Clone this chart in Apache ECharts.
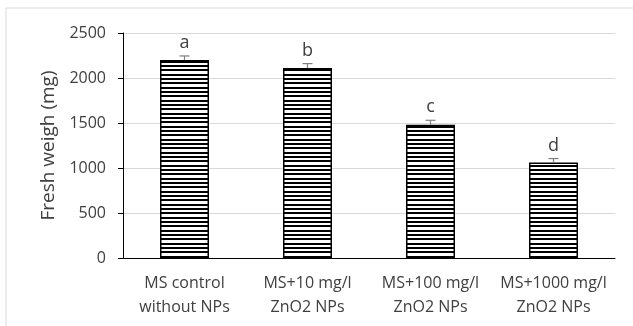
<!DOCTYPE html>
<html>
<head>
<meta charset="utf-8">
<script src="https://cdn.jsdelivr.net/npm/echarts@6/dist/echarts.min.js"></script>
<style>
  html, body { margin: 0; padding: 0; background: #fff; }
  #chart { width: 633px; height: 326px; }
</style>
</head>
<body>
<div id="chart"></div>
<script>
// data
var categories = ['MS control\nwithout NPs', 'MS+10 mg/l\nZnO2 NPs', 'MS+100 mg/l\nZnO2 NPs', 'MS+1000 mg/l\nZnO2 NPs'];
var freshWeight = [2200, 2110, 1480, 1060];
var errors = [45, 50, 50, 45];
var letters = ['a', 'b', 'c', 'd'];

// horizontal stripe fill
var pat = document.createElement('canvas');
pat.width = 4; pat.height = 13;
var ctx = pat.getContext('2d');
ctx.fillStyle = '#fff';
ctx.fillRect(0, 0, 4, 13);
ctx.fillStyle = '#000';
ctx.fillRect(0, 0, 4, 2);
ctx.fillRect(0, 4, 4, 2);
ctx.fillRect(0, 9, 4, 2);

var font = '"Open Sans", sans-serif';
var myChart = echarts.init(document.getElementById('chart'));

var errData = freshWeight.map(function (v, i) { return [i, v, errors[i], letters[i]]; });

myChart.setOption({
  animation: false,
  graphic: [{
    type: 'rect',
    shape: { x: 6, y: 8, width: 700, height: 400 },
    style: { fill: 'none', stroke: '#d9d9d9', lineWidth: 1 },
    silent: true
  }],
  grid: { left: 123, right: 18, top: 33, bottom: 68 },
  xAxis: {
    type: 'category',
    data: categories,
    axisLine: { lineStyle: { color: '#000', width: 1 } },
    axisTick: { inside: true, length: 5, lineStyle: { color: '#000' } },
    axisLabel: { interval: 0, color: '#404040', fontSize: 16, fontFamily: font, lineHeight: 24, margin: 13 }
  },
  yAxis: {
    type: 'value',
    min: 0, max: 2500, interval: 500,
    name: 'Fresh weigh (mg)',
    nameLocation: 'middle',
    nameGap: 64,
    nameTextStyle: { color: '#404040', fontSize: 19, fontFamily: font },
    axisLine: { show: true, lineStyle: { color: '#000', width: 1 } },
    axisTick: { show: true, length: 5, lineStyle: { color: '#000' } },
    axisLabel: {
      color: '#404040', fontSize: 16, fontFamily: font, margin: 17,
      formatter: function (v) { return String(v); }
    },
    splitLine: { lineStyle: { color: '#d9d9d9' } }
  },
  series: [{
    type: 'bar',
    data: freshWeight,
    barWidth: 49,
    itemStyle: {
      color: { image: pat, repeat: 'repeat' },
      borderColor: '#000',
      borderWidth: 1.5
    }
  }, {
    type: 'custom',
    data: errData,
    z: 10,
    renderItem: function (params, api) {
      var x = api.value(0);
      var v = api.value(1);
      var e = api.value(2);
      var top = api.coord([x, v + e]);
      var base = api.coord([x, v]);
      var hw = 5;
      return {
        type: 'group',
        children: [{
          type: 'line',
          shape: { x1: base[0], y1: base[1], x2: top[0], y2: top[1] },
          style: { stroke: '#7f7f7f', lineWidth: 1.2 }
        }, {
          type: 'line',
          shape: { x1: top[0] - hw, y1: top[1], x2: top[0] + hw, y2: top[1] },
          style: { stroke: '#7f7f7f', lineWidth: 1.2 }
        }, {
          type: 'text',
          style: {
            text: api.value(3),
            x: top[0], y: top[1] - 4,
            textAlign: 'center', textVerticalAlign: 'bottom',
            fill: '#404040', font: '18px ' + font
          }
        }]
      };
    }
  }]
});
</script>
</body>
</html>
